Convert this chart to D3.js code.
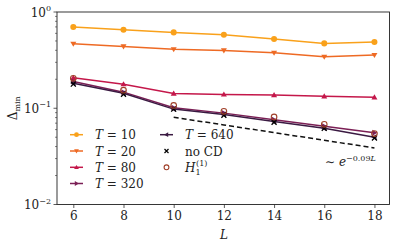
<!DOCTYPE html>
<html>
<head>
<meta charset="utf-8">
<script src="https://cdn.jsdelivr.net/npm/d3@7"></script>
<style>
  body { margin: 0; background: #fff; }
</style>
</head>
<body>
<div id="chart"></div>
<script>
const sizesL = [6, 8, 10, 12, 14, 16, 18];

const t10 = [0.698, 0.654, 0.614, 0.580, 0.523, 0.472, 0.487];
const t20 = [0.468, 0.439, 0.409, 0.399, 0.377, 0.342, 0.357];
const t80 = [0.207, 0.178, 0.142, 0.139, 0.137, 0.133, 0.130];
const t320 = [0.190, 0.147, 0.101, 0.089, 0.076, 0.065, 0.0555];
const t640 = [0.182, 0.143, 0.098, 0.086, 0.073, 0.062, 0.050];
const noCD = [0.178, 0.140, 0.098, 0.0846, 0.0715, 0.0619, 0.049];
const h1 = [0.205, 0.154, 0.107, 0.093, 0.0812, 0.068, 0.0545];

const fitL = [10, 12, 14, 16, 18];
const fitVals = [0.0806, 0.0671, 0.0558, 0.0465, 0.0387];

const xTicks = [6, 8, 10, 12, 14, 16, 18];
const yTicks = [1, 0.1, 0.01];
const yTickExp = ["0", "\u22121", "\u22122"];

const series = [
  {name: "10", vals: t10, color: "#f9a11b", marker: "circle"},
  {name: "20", vals: t20, color: "#ee6a24", marker: "tridown"},
  {name: "80", vals: t80, color: "#c4174a", marker: "triup"},
  {name: "320", vals: t320, color: "#7b1f55", marker: "triright"},
  {name: "640", vals: t640, color: "#3a1a42", marker: "trileft"}
];

const FONT = "DejaVu Serif";
const width = 397, height = 249;
const margin = {top: 12, right: 7.5, bottom: 44.5, left: 57};
const w = width - margin.left - margin.right;
const h = height - margin.top - margin.bottom;

const svg = d3.select("#chart").append("svg")
  .attr("width", width).attr("height", height)
  .attr("font-family", FONT);
const g = svg.append("g")
  .attr("transform", "translate(" + margin.left + "," + margin.top + ")");

const txt = (sel) => sel.attr("font-family", FONT).attr("fill", "#222");

const x = d3.scaleLinear().domain([5.35, 18.6]).range([0, w]);
const y = d3.scaleLog().domain([0.01, 1]).range([h, 0]);

// minor ticks on y
const minor = [];
[0.01, 0.1].forEach(b => { for (let k = 2; k <= 9; k++) minor.push(b * k); });
g.append("g").selectAll("line").data(minor).enter().append("line")
  .attr("x1", -2).attr("x2", 0)
  .attr("y1", d => y(d)).attr("y2", d => y(d))
  .attr("stroke", "#333").attr("stroke-width", 0.6);

g.append("g").selectAll("line").data(yTicks).enter().append("line")
  .attr("x1", -3.5).attr("x2", 0)
  .attr("y1", d => y(d)).attr("y2", d => y(d))
  .attr("stroke", "#333").attr("stroke-width", 0.8);

const yl = g.append("g").selectAll("text").data(yTicks).enter().append("text")
  .attr("x", -6).attr("y", d => y(d) + 4.5)
  .attr("text-anchor", "end").attr("font-size", 12).call(txt);
yl.append("tspan").text("10");
yl.append("tspan").attr("dy", -5.5).attr("font-size", 8).text((d, i) => yTickExp[i]);

// x axis
g.append("g").attr("transform", "translate(0," + h + ")")
  .call(d3.axisBottom(x).tickValues(xTicks).tickSize(3.5).tickPadding(3))
  .call(a => a.attr("font-family", FONT).attr("font-size", 12))
  .call(a => a.select(".domain").remove())
  .call(a => a.selectAll("line").attr("stroke", "#333").attr("stroke-width", 0.8))
  .call(a => a.selectAll("text").call(txt));

g.append("rect").attr("width", w).attr("height", h)
  .attr("fill", "none").attr("stroke", "#222").attr("stroke-width", 0.9);

// axis labels
g.append("text").attr("x", x(12)).attr("y", h + 34)
  .attr("text-anchor", "middle").attr("font-size", 12).attr("font-style", "italic")
  .call(txt).text("L");
const ylab = svg.append("text")
  .attr("transform", "translate(17," + (margin.top + y(0.1)) + ") rotate(-90)")
  .attr("text-anchor", "middle").attr("font-size", 12).call(txt);
ylab.append("tspan").text("\u0394");
ylab.append("tspan").attr("dy", 3).attr("font-size", 8).text("min");

const markerPath = (type, s) => {
  if (type === "tridown") return `M${-s},${-s * 0.7}L${s},${-s * 0.7}L0,${s}Z`;
  if (type === "triup") return `M${-s},${s * 0.7}L${s},${s * 0.7}L0,${-s}Z`;
  if (type === "triright") return `M${-s * 0.7},${-s}L${-s * 0.7},${s}L${s},0Z`;
  if (type === "trileft") return `M${s * 0.7},${-s}L${s * 0.7},${s}L${-s},0Z`;
  return d3.symbol(d3.symbolCircle, s * s * 3.2)();
};

const line = d3.line().x((d, i) => x(sizesL[i])).y(d => y(d));

// fit line
g.append("path")
  .attr("d", d3.line().x((d, i) => x(fitL[i])).y(d => y(d))(fitVals))
  .attr("fill", "none").attr("stroke", "#111").attr("stroke-width", 1.5)
  .attr("stroke-dasharray", "5,3");

series.forEach(s => {
  g.append("path").attr("d", line(s.vals))
    .attr("fill", "none").attr("stroke", s.color).attr("stroke-width", 1.5);
  g.append("g").selectAll("path").data(s.vals).enter().append("path")
    .attr("transform", (d, i) => `translate(${x(sizesL[i])},${y(d)})`)
    .attr("d", markerPath(s.marker, 3)).attr("fill", s.color);
});

// no CD crosses
const cross = "M-2.5,-2.5L2.5,2.5M-2.5,2.5L2.5,-2.5";
g.append("g").selectAll("path").data(noCD).enter().append("path")
  .attr("transform", (d, i) => `translate(${x(sizesL[i])},${y(d)})`)
  .attr("d", cross).attr("stroke", "#000").attr("stroke-width", 1.3).attr("fill", "none");

// H1 open circles
g.append("g").selectAll("circle").data(h1).enter().append("circle")
  .attr("cx", (d, i) => x(sizesL[i])).attr("cy", d => y(d)).attr("r", 2.8)
  .attr("fill", "none").attr("stroke", "#a0402a").attr("stroke-width", 1.1);

// annotation
const ann = g.append("text").attr("x", 325 - margin.left).attr("y", 166 - margin.top)
  .attr("font-size", 12).call(txt);
ann.append("tspan").text("\u223C ");
ann.append("tspan").attr("font-style", "italic").text("e");
ann.append("tspan").attr("dy", -5.5).attr("font-size", 8).text("\u22120.09");
ann.append("tspan").attr("font-size", 8).attr("font-style", "italic").text("L");

// legend
const leg = svg.append("g");
const rowY = [134.7, 151, 167.3, 183.5];
series.forEach((s, i) => {
  const lx = i < 4 ? 70 : 160;
  const ly = i < 4 ? rowY[i] : rowY[0];
  leg.append("line").attr("x1", lx).attr("x2", lx + 13).attr("y1", ly).attr("y2", ly)
    .attr("stroke", s.color).attr("stroke-width", 1.5);
  leg.append("path").attr("transform", `translate(${lx + 6.5},${ly})`)
    .attr("d", markerPath(s.marker, 2.4)).attr("fill", s.color);
  const t = leg.append("text").attr("x", lx + 25).attr("y", ly + 4.5)
    .attr("font-size", 12).call(txt);
  t.append("tspan").attr("font-style", "italic").text("T");
  t.append("tspan").text(" = " + s.name);
});
leg.append("path").attr("transform", `translate(166.5,${rowY[1]})`)
  .attr("d", "M-2,-2L2,2M-2,2L2,-2").attr("stroke", "#000").attr("stroke-width", 1.2).attr("fill", "none");
leg.append("text").attr("x", 185).attr("y", rowY[1] + 4.5).attr("font-size", 12)
  .call(txt).text("no CD");
leg.append("circle").attr("cx", 166.5).attr("cy", rowY[2]).attr("r", 2.4)
  .attr("fill", "none").attr("stroke", "#a0402a").attr("stroke-width", 1.1);
const ht = leg.append("text").attr("x", 185).attr("y", rowY[2] + 4.5)
  .attr("font-size", 12).call(txt);
ht.append("tspan").attr("font-style", "italic").text("H");
ht.append("tspan").attr("dy", 3).attr("font-size", 8).text("1");
ht.append("tspan").attr("dx", -4.5).attr("dy", -8.5).attr("font-size", 8).text("(1)");
</script>
</body>
</html>
